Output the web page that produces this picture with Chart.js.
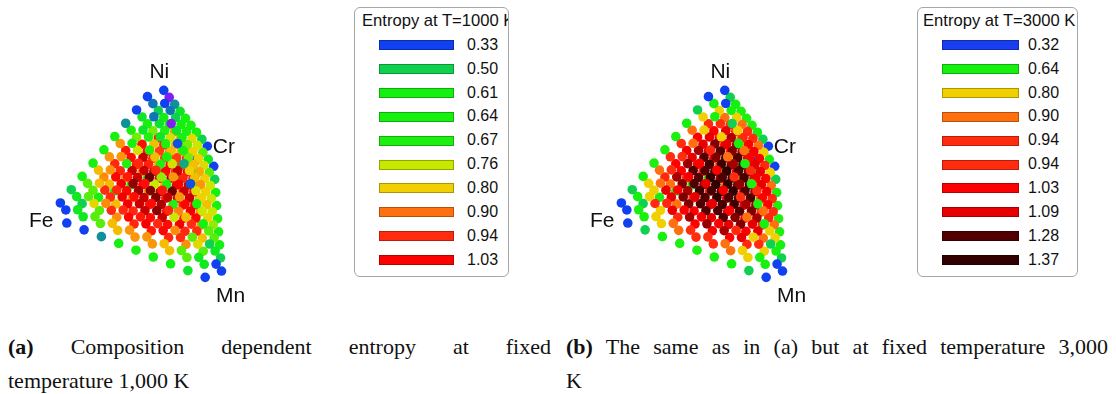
<!DOCTYPE html>
<html lang="en">
<head>
<meta charset="UTF-8">
<title>Composition dependent entropy</title>
<script src="https://cdn.jsdelivr.net/npm/chart.js"></script>
<style>
  html, body { margin: 0; padding: 0; background: #fff; }
  body { width: 1116px; height: 394px; position: relative; overflow: hidden; font-family: "Liberation Sans", Arial, sans-serif; }
  canvas.tern { position: absolute; top: 0; }
  .legend { position: absolute; top: 7px; height: 270px; box-sizing: border-box; border: 1px solid #a6a6a6; border-radius: 6px; overflow: hidden; background: #fff; }
  .legend .title, .legend .val { position: absolute; font-size: 16px; line-height: 16px; color: #111; white-space: nowrap; }
  .legend .title { font-size: 16.6px; }
  .legend .sw { position: absolute; height: 10px; box-sizing: border-box; border: 1px solid rgba(0,0,0,0.28); }
  .cap { position: absolute; font-family: "Liberation Serif", "Times New Roman", serif; font-size: 22px; line-height: 35px; color: #111; white-space: nowrap; }
  .cap.just { text-align: justify; text-align-last: justify; white-space: normal; }
</style>
</head>
<body>
<canvas id="chart1000" class="tern" width="340" height="320" style="left:0px"></canvas>
<canvas id="chart3000" class="tern" width="340" height="320" style="left:561px"></canvas>
<div id="legend1000" class="legend" style="left:354px; width:155px"></div>
<div id="legend3000" class="legend" style="left:917px; width:161px"></div>

<div class="cap just" style="left:8px; top:329px; width:543px"><b>(a)</b> Composition dependent entropy at fixed</div>
<div class="cap" style="left:8px; top:363px">temperature 1,000 K</div>
<div class="cap just" style="left:566px; top:329px; width:542px"><b>(b)</b> The same as in (a) but at fixed temperature 3,000</div>
<div class="cap" style="left:566px; top:363px">K</div>

<script>
// elements at the corners of the composition tetrahedron
const elements = ["Fe", "Ni", "Cr", "Mn"];

// legend entries
const legendTitle1000 = "Entropy at T=1000 K";
const legend1000 = [0.33, 0.50, 0.61, 0.64, 0.67, 0.76, 0.80, 0.90, 0.94, 1.03];
const legendTitle3000 = "Entropy at T=3000 K";
const legend3000 = [0.32, 0.64, 0.80, 0.90, 0.94, 0.94, 1.03, 1.09, 1.28, 1.37];

// entropy per composition (steps of 0.1), one array per Mn layer:
// rows = Cr content 0..(10-Mn), entries = Ni content 0..(10-Mn-Cr), Fe is the rest
// T = 1000 K
const s1000_mn0 = [
  [null, 0.33, 0.50, 0.61, 0.64, 0.67, 0.64, 0.42, 0.33, 0.33, null],
  [0.33, 0.56, 0.72, 0.82, 0.86, 0.86, 0.65, 0.55, 0.39, 0.33],
  [0.50, 0.72, 0.87, 0.95, 0.98, 0.73, 0.65, 0.50, 0.20],
  [0.61, 0.82, 0.95, 1.01, 1.01, 0.73, 0.60, 0.42],
  [0.64, 0.86, 0.98, 1.01, 0.98, 0.64, 0.55],
  [0.67, 0.86, 0.95, 0.95, 0.86, 0.64],
  [0.64, 0.82, 0.87, 0.82, 0.64],
  [0.61, 0.72, 0.72, 0.61],
  [0.50, 0.56, 0.50],
  [0.33, 0.33],
  [null]
];
const s1000_mn1 = [
  [0.33, 0.56, 0.72, 0.82, 0.86, 0.86, 0.65, 0.55, 0.39, 0.33],
  [0.56, 0.79, 0.94, 1.02, 0.70, 0.77, 0.69, 0.54, 0.39],
  [0.72, 0.94, 1.07, 1.13, 1.13, 0.82, 0.69, 0.50],
  [0.82, 1.02, 1.13, 0.96, 0.93, 0.77, 0.60],
  [0.86, 1.04, 1.13, 0.93, 0.84, 0.64],
  [0.86, 1.02, 1.07, 0.82, 0.78],
  [0.82, 0.94, 0.94, 0.76],
  [0.72, 0.79, 0.72],
  [0.56, 0.56],
  [0.33]
];
const s1000_mn2 = [
  [0.33, 0.72, 0.87, 0.95, 0.98, 0.95, 0.70, 0.55, 0.20],
  [0.72, 0.94, 1.07, 1.20, 1.13, 0.82, 0.69, 0.55],
  [0.87, 1.07, 1.18, 1.25, 0.68, 0.82, 0.65],
  [0.95, 1.13, 0.76, 1.02, 0.93, 0.73],
  [0.98, 1.13, 1.18, 0.93, 0.80],
  [0.95, 1.07, 1.07, 0.80],
  [0.87, 0.94, 0.78],
  [0.72, 0.72],
  [0.50]
];
const s1000_mn3 = [
  [0.42, 0.82, 0.95, 1.01, 1.01, 0.95, 0.65, 0.35],
  [0.82, 1.02, 1.13, 1.22, 0.74, 0.77, 0.65],
  [0.95, 1.13, 1.22, 0.66, 1.13, 0.73],
  [1.01, 1.16, 1.24, 0.96, 0.82],
  [1.01, 1.13, 1.13, 0.84],
  [0.95, 1.02, 0.80],
  [0.82, 0.76],
  [0.61]
];
const s1000_mn4 = [
  [0.61, 0.86, 0.98, 1.01, 0.98, 0.86, 0.45],
  [0.86, 1.04, 1.20, 1.13, 1.04, 0.80],
  [0.98, 1.13, 0.70, 1.13, 0.82],
  [1.01, 0.88, 1.13, 0.86],
  [0.98, 1.04, 0.80],
  [0.86, 0.76],
  [0.64]
];
const s1000_mn5 = [
  [0.67, 0.86, 0.95, 0.95, 0.86, 0.35],
  [0.86, 1.02, 0.76, 1.02, 0.78],
  [0.95, 1.07, 1.07, 0.80],
  [0.95, 1.02, 0.82],
  [0.86, 0.76],
  [0.67]
];
const s1000_mn6 = [
  [0.64, 0.82, 0.87, 0.82, 0.64],
  [0.82, 0.94, 0.94, 0.76],
  [0.87, 0.94, 0.80],
  [0.82, 0.74],
  [0.64]
];
const s1000_mn7 = [
  [0.61, 0.72, 0.72, 0.61],
  [0.72, 0.79, 0.72],
  [0.72, 0.72],
  [0.61]
];
const s1000_mn8 = [
  [0.55, 0.56, 0.50],
  [0.56, 0.56],
  [0.50]
];
const s1000_mn9 = [
  [0.33, 0.33],
  [0.33]
];
const s1000_mn10 = [[null]];

// T = 3000 K
const s3000_mn0 = [
  [null, 0.33, 0.50, 0.61, 0.67, 0.69, 0.67, 0.61, 0.50, 0.33, null],
  [0.33, 0.64, 0.80, 0.90, 0.94, 0.94, 0.90, 0.80, 0.64, 0.33],
  [0.50, 0.80, 0.95, 1.03, 1.06, 1.03, 0.95, 0.80, 0.50],
  [0.61, 0.90, 1.03, 1.09, 1.09, 1.03, 0.90, 0.61],
  [0.67, 0.94, 1.06, 1.09, 1.06, 0.94, 0.67],
  [0.69, 0.94, 1.03, 1.03, 0.94, 0.69],
  [0.67, 0.90, 0.95, 0.90, 0.67],
  [0.61, 0.80, 0.80, 0.61],
  [0.50, 0.64, 0.50],
  [0.33, 0.33],
  [null]
];
const s3000_mn1 = [
  [0.33, 0.64, 0.80, 0.90, 0.94, 0.94, 0.90, 0.80, 0.64, 0.33],
  [0.64, 0.94, 1.09, 1.17, 1.19, 1.17, 1.09, 0.94, 0.64],
  [0.80, 1.09, 1.22, 1.28, 1.28, 1.22, 1.09, 0.80],
  [0.90, 1.17, 1.28, 1.31, 1.28, 1.17, 0.90],
  [0.94, 1.19, 1.28, 1.28, 1.19, 0.94],
  [0.94, 1.17, 1.22, 1.17, 0.94],
  [0.90, 1.09, 1.09, 0.90],
  [0.80, 0.94, 0.80],
  [0.64, 0.64],
  [0.33]
];
const s3000_mn2 = [
  [0.50, 0.80, 0.95, 1.03, 1.06, 1.03, 0.95, 0.80, 0.50],
  [0.80, 1.09, 1.22, 1.28, 1.28, 1.22, 1.09, 0.80],
  [0.95, 1.22, 1.33, 1.37, 1.33, 1.22, 0.95],
  [1.03, 1.28, 1.37, 1.37, 1.28, 1.03],
  [1.06, 1.28, 1.33, 1.28, 1.06],
  [1.03, 1.22, 1.22, 1.03],
  [0.95, 1.09, 0.95],
  [0.80, 0.80],
  [0.50]
];
const s3000_mn3 = [
  [0.61, 0.90, 1.03, 1.09, 1.09, 1.03, 0.90, 0.61],
  [0.90, 1.17, 1.28, 1.31, 1.28, 1.17, 0.90],
  [1.03, 1.28, 1.37, 1.37, 1.28, 1.03],
  [1.09, 1.31, 1.37, 1.31, 1.09],
  [1.09, 1.28, 1.28, 1.09],
  [1.03, 1.17, 1.03],
  [0.90, 0.90],
  [0.61]
];
const s3000_mn4 = [
  [0.67, 0.94, 1.06, 1.09, 1.06, 0.94, 0.67],
  [0.94, 1.19, 1.28, 1.28, 1.19, 0.94],
  [1.06, 1.28, 1.33, 1.28, 1.06],
  [1.09, 1.28, 1.28, 1.09],
  [1.06, 1.19, 1.06],
  [0.94, 0.94],
  [0.67]
];
const s3000_mn5 = [
  [0.69, 0.94, 1.03, 1.03, 0.94, 0.69],
  [0.94, 1.17, 1.22, 1.17, 0.94],
  [1.03, 1.22, 1.22, 1.03],
  [1.03, 1.17, 1.03],
  [0.94, 0.94],
  [0.69]
];
const s3000_mn6 = [
  [0.67, 0.90, 0.95, 0.90, 0.67],
  [0.90, 1.09, 1.09, 0.90],
  [0.95, 1.09, 0.95],
  [0.90, 0.90],
  [0.67]
];
const s3000_mn7 = [
  [0.61, 0.80, 0.80, 0.61],
  [0.80, 0.94, 0.80],
  [0.80, 0.80],
  [0.61]
];
const s3000_mn8 = [
  [0.50, 0.64, 0.50],
  [0.64, 0.64],
  [0.50]
];
const s3000_mn9 = [
  [0.33, 0.33],
  [0.33]
];
const s3000_mn10 = [[null]];

const layers1000 = [s1000_mn0, s1000_mn1, s1000_mn2, s1000_mn3, s1000_mn4, s1000_mn5,
                    s1000_mn6, s1000_mn7, s1000_mn8, s1000_mn9, s1000_mn10];
const layers3000 = [s3000_mn0, s3000_mn1, s3000_mn2, s3000_mn3, s3000_mn4, s3000_mn5,
                    s3000_mn6, s3000_mn7, s3000_mn8, s3000_mn9, s3000_mn10];

// oblique view of the tetrahedron: where each pure element lands on the x/y axes
const corner = { Fe: [0, 0], Ni: [1.12, 1.37], Cr: [1.68, 0.65], Mn: [1.78, -0.70] };
// label offsets from the corner, px
const labelOffset = { Fe: [4, 5, "right"], Ni: [1, -11, "center"], Cr: [0, -6, "left"], Mn: [8, 12, "center"] };

// colour scale
const stops = [
  [0.20, [128, 32, 240]], [0.33, [16, 64, 240]], [0.42, [16, 144, 154]], [0.50, [16, 208, 80]],
  [0.58, [16, 240, 16]], [0.70, [32, 240, 16]], [0.76, [200, 232, 0]], [0.80, [240, 208, 0]],
  [0.90, [255, 112, 16]], [0.94, [255, 44, 16]], [1.03, [255, 0, 0]], [1.09, [232, 0, 0]],
  [1.18, [160, 0, 0]], [1.28, [80, 0, 0]], [1.37, [48, 0, 0]]
];
function colorFor(v) {
  if (v <= stops[0][0]) return "rgb(" + stops[0][1].join(",") + ")";
  for (let i = 1; i < stops.length; i++) {
    if (v <= stops[i][0]) {
      let a = stops[i - 1], b = stops[i];
      let t = (v - a[0]) / (b[0] - a[0]);
      let c = a[1].map((x, k) => Math.round(x + (b[1][k] - x) * t));
      return "rgb(" + c.join(",") + ")";
    }
  }
  return "rgb(" + stops[stops.length - 1][1].join(",") + ")";
}

function buildPoints(layers) {
  let pts = [];
  layers.forEach((rows, mn) => {
    rows.forEach((row, cr) => {
      row.forEach((s, ni) => {
        if (s === null) return;
        let fe = 10 - mn - cr - ni;
        let x = (fe * corner.Fe[0] + ni * corner.Ni[0] + cr * corner.Cr[0] + mn * corner.Mn[0]) / 10;
        let y = (fe * corner.Fe[1] + ni * corner.Ni[1] + cr * corner.Cr[1] + mn * corner.Mn[1]) / 10;
        // Ni and Mn face the viewer, Fe and Cr are behind
        pts.push({ x: x, y: y, s: s, depth: ni + mn - fe - cr });
      });
    });
  });
  pts.sort((a, b) => a.depth - b.depth);
  return pts;
}

const cornerLabels = {
  id: "cornerLabels",
  afterDatasetsDraw(chart) {
    let ctx = chart.ctx;
    ctx.save();
    ctx.fillStyle = "#111";
    ctx.font = "21px 'Liberation Sans', Arial, sans-serif";
    ctx.textBaseline = "middle";
    elements.forEach(el => {
      let px = chart.scales.x.getPixelForValue(corner[el][0]);
      let py = chart.scales.y.getPixelForValue(corner[el][1]);
      let off = labelOffset[el];
      ctx.textAlign = off[2];
      ctx.fillText(el, px + off[0], py + off[1]);
    });
    ctx.restore();
  }
};

function renderTernary(id, layers) {
  let ctx = document.getElementById(id).getContext("2d");
  new Chart(ctx, {
    type: "scatter",
    data: {
      datasets: [{
        data: buildPoints(layers),
        pointRadius: 4.8,
        pointHoverRadius: 4.8,
        borderWidth: 0,
        backgroundColor: c => colorFor(c.raw ? c.raw.s : 1)
      }]
    },
    options: {
      responsive: false,
      animation: false,
      devicePixelRatio: 1,
      layout: { padding: 0 },
      events: [],
      plugins: { legend: { display: false }, tooltip: { enabled: false } },
      scales: {
        x: { type: "linear", min: -0.46, max: 2.94, display: false },
        y: { type: "linear", min: -1.02, max: 2.18, display: false }
      }
    },
    plugins: [cornerLabels]
  });
}

function renderLegend(id, title, values, titleLeft, swLeft, swWidth, valLeft) {
  let box = document.getElementById(id);
  let t = document.createElement("div");
  t.className = "title";
  t.style.left = titleLeft + "px";
  t.style.top = "5px";
  t.textContent = title;
  box.appendChild(t);
  values.forEach((v, i) => {
    let sw = document.createElement("div");
    sw.className = "sw";
    sw.style.left = swLeft + "px";
    sw.style.top = (32 + 23.9 * i) + "px";
    sw.style.width = swWidth + "px";
    sw.style.background = colorFor(v);
    box.appendChild(sw);
    let lab = document.createElement("div");
    lab.className = "val";
    lab.style.left = valLeft + "px";
    lab.style.top = (28.7 + 23.9 * i) + "px";
    lab.textContent = v.toFixed(2);
    box.appendChild(lab);
  });
}

renderTernary("chart1000", layers1000);
renderTernary("chart3000", layers3000);
renderLegend("legend1000", legendTitle1000, legend1000, 7, 24, 75, 112);
renderLegend("legend3000", legendTitle3000, legend3000, 5, 24, 77, 110);
</script>
</body>
</html>
